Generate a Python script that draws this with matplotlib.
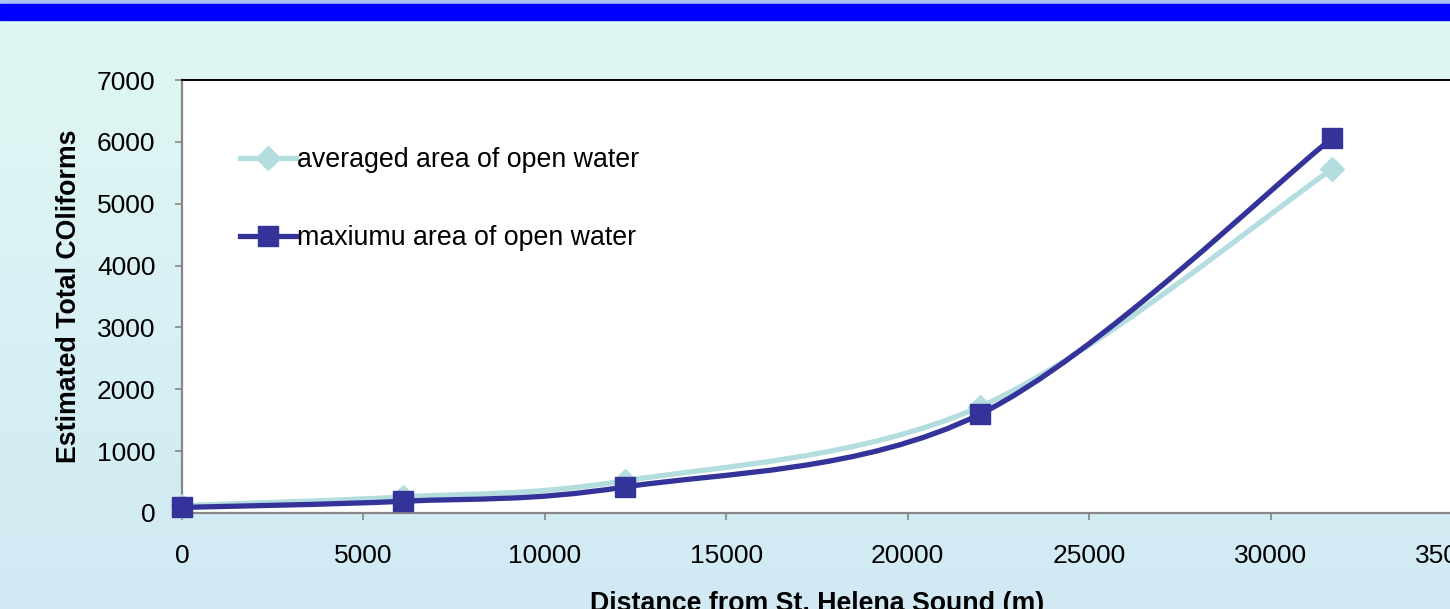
import numpy as np
import matplotlib
matplotlib.use("Agg")
import matplotlib.pyplot as plt
from matplotlib.path import Path
from matplotlib.patches import PathPatch
from matplotlib.lines import Line2D
from matplotlib.colors import to_rgb

plt.rcParams['font.family'] = ['Liberation Sans', 'DejaVu Sans']

# data
distance = [0, 6100, 12200, 22000, 31700]
averaged = [120, 260, 520, 1720, 5560]
maximum = [90, 190, 420, 1600, 6060]

avg_label = 'averaged area of open water'
max_label = 'maxiumu area of open water'
x_label = 'Distance from St. Helena Sound (m)'
y_label = 'Estimated Total COliforms'

avg_color = '#B4DDE0'
max_color = '#333399'


def smooth_path(xs, ys):
    # Excel-like smoothed line: Catmull-Rom converted to cubic Bezier segments
    pts = np.column_stack([xs, ys]).astype(float)
    ext = np.vstack([pts[0], pts, pts[-1]])
    verts = [tuple(pts[0])]
    codes = [Path.MOVETO]
    for i in range(1, len(ext) - 2):
        p0, p1, p2, p3 = ext[i - 1], ext[i], ext[i + 1], ext[i + 2]
        c1 = p1 + (p2 - p0) / 6.0
        c2 = p2 - (p3 - p1) / 6.0
        verts += [tuple(c1), tuple(c2), tuple(p2)]
        codes += [Path.CURVE4] * 3
    return Path(verts, codes)


W, H = 1450, 609
fig = plt.figure(figsize=(W / 100, H / 100), dpi=100)

# background picture (soft blue gradient) and blue title bar
bg = fig.add_axes([0, 0, 1, 1])
stops = [(0.0, '#dff8f3'), (0.35, '#dcf3f4'), (0.7, '#d4eef4'), (1.0, '#d2e9f3')]
yy = np.linspace(0, 1, 200)
cols = np.array([[np.interp(v, [s[0] for s in stops], [to_rgb(s[1])[k] for s in stops]) for k in range(3)] for v in yy])
img = np.repeat(cols[:, None, :], 2, axis=1)
bg.imshow(img, aspect='auto', extent=[0, 1, 0, 1], origin='upper')
bg.axhspan(1 - 4 / H, 1, color='#a9c0fb')
bg.axhspan(1 - 20 / H, 1 - 4 / H, color='#0000ff')
bg.set_xlim(0, 1)
bg.set_ylim(0, 1)
bg.axis('off')

ax = fig.add_axes([182 / W, (H - 513) / H, (1452 - 182) / W, (513 - 80) / H])
ax.set_facecolor('white')

ax.add_patch(PathPatch(smooth_path(distance, averaged), facecolor='none',
                       edgecolor=avg_color, lw=3.8, capstyle='round', zorder=3))
ax.plot(distance, averaged, linestyle='none', marker='D', ms=12.5,
        color=avg_color, zorder=4, clip_on=False)
ax.add_patch(PathPatch(smooth_path(distance, maximum), facecolor='none',
                       edgecolor=max_color, lw=3.8, capstyle='round', zorder=5))
ax.plot(distance, maximum, linestyle='none', marker='s', ms=14.5,
        color=max_color, zorder=6, clip_on=False)

ax.set_xlim(0, 35000)
ax.set_ylim(0, 7000)
ax.set_xticks(range(0, 35001, 5000))
ax.set_yticks(range(0, 7001, 1000))

for side in ['left', 'bottom']:
    ax.spines[side].set_color('#868686')
    ax.spines[side].set_linewidth(1.6)
ax.spines['top'].set_color('black')
ax.spines['top'].set_linewidth(1.4)
ax.spines['right'].set_color('black')

ax.tick_params(axis='x', direction='out', length=5, width=1.2, color='#868686',
               labelsize=19, pad=17)
ax.tick_params(axis='y', direction='out', length=5, width=1.2, color='#868686',
               labelsize=19, pad=14)

ax.set_xlabel(x_label, fontsize=19.3, fontweight='bold', labelpad=17)
ax.set_ylabel(y_label, fontsize=19.3, fontweight='bold', labelpad=11)

handles = [
    Line2D([], [], color=avg_color, lw=3.8, marker='D', ms=12.5),
    Line2D([], [], color=max_color, lw=3.8, marker='s', ms=14.5),
]
ax.legend(handles, [avg_label, max_label], loc='upper left',
          bbox_to_anchor=(0.037, 0.87), frameon=False, fontsize=19.3,
          handlelength=2.1, handletextpad=0.02, labelspacing=1.95,
          borderaxespad=0)

fig.savefig('out.png', dpi=100)
